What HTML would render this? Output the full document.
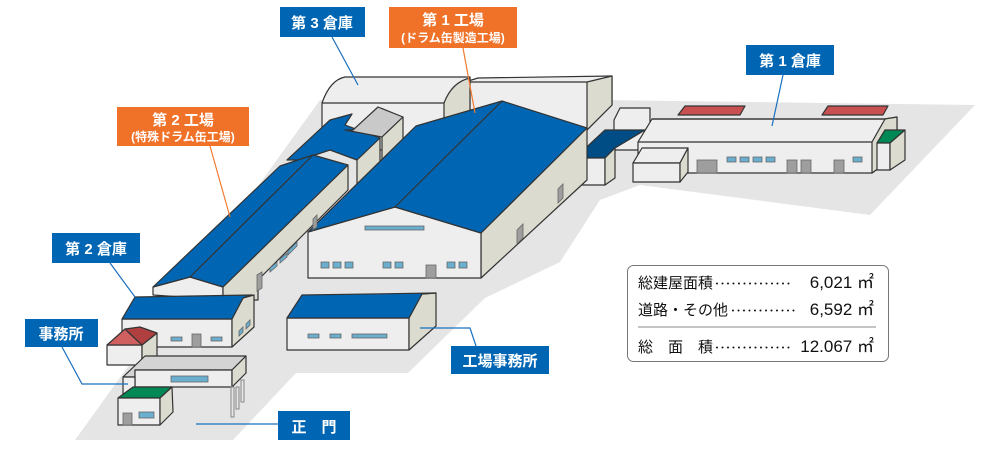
<!DOCTYPE html>
<html><head><meta charset="utf-8"><style>
html,body{margin:0;padding:0;background:#fff;}
svg{display:block;}
text{font-family:"Liberation Sans","Noto Sans CJK JP",sans-serif;}
</style></head><body>
<svg width="1000" height="449" viewBox="0 0 1000 449" xmlns="http://www.w3.org/2000/svg">
<!-- ground -->
<polygon points="75,440 233,440 296,373 408,373 485,298 560,262 600,200 640,185 870,215 975,105 600,100 320,100 75,440" fill="#e5e5e5"/>
<g stroke="#333" stroke-width="1.2" stroke-linejoin="round">
<polygon points="465,82 478,78 612,76 612,105 587,130 465,130" fill="#eeeeee"/>
<polygon points="587,82 612,76 612,105 587,130" fill="#dcdbcf"/>
<line x1="465" y1="82" x2="587" y2="82"/>
<path d="M322,150 L322,103 Q330,80 345,77 L470,77 L470,115 L444,150 Z" fill="#eeeeee"/>
<path d="M444,103 Q452,82 470,78 L470,115 L444,150 Z" fill="#dcdbcf"/>
<line x1="322" y1="103" x2="444" y2="103"/>
<polygon points="614,120 620,108 650,108 650,150 614,150" fill="#eeeeee"/>
<polygon points="678,115 685,106 745,106 740,115" fill="#c85050"/>
<polygon points="822,115 828,106 888,106 883,115" fill="#c85050"/>
<polygon points="638,142 652,119 885,119 897,117 897,155 872,173 638,173" fill="#eeeeee"/>
<polygon points="872,142 885,119 897,117 897,155 872,173" fill="#dcdbcf"/>
<line x1="638" y1="142" x2="872" y2="142"/>
<line x1="652" y1="119" x2="885" y2="119"/>
<polygon points="877,143 885,130 905,130 890,143" fill="#008855"/>
<rect x="877" y="143" width="13" height="27" fill="#eeeeee"/>
<polygon points="890,143 905,130 905,160 890,170" fill="#dcdbcf"/>
<polygon points="633,163 642,148 688,148 680,163" fill="#eeeeee"/>
<rect x="633" y="163" width="47" height="19" fill="#eeeeee"/>
<polygon points="680,163 688,148 688,172 680,182" fill="#dcdbcf"/>
<polygon points="575,158 605,130 645,130 615,148 605,158" fill="#004d85"/>
<rect x="575" y="158" width="30" height="27" fill="#eeeeee"/>
<polygon points="605,158 615,148 615,178 605,185" fill="#dcdbcf"/>
</g>
<g fill="#6aaed0" stroke="#666" stroke-width="0.8">
<rect x="727" y="157" width="9" height="5"/><rect x="740" y="157" width="9" height="5"/><rect x="753" y="157" width="9" height="5"/><rect x="766" y="157" width="9" height="5"/><rect x="853" y="157" width="9" height="5"/>
</g>
<g fill="#9e9e9e" stroke="#666" stroke-width="0.8">
<rect x="697" y="160" width="20" height="13"/><rect x="787" y="160" width="10" height="13"/><rect x="801" y="160" width="10" height="13"/><rect x="834" y="160" width="10" height="13"/>
</g>
<g stroke="#333" stroke-width="1.2" stroke-linejoin="round">
<polygon points="287,160 330,120 352,114 345,125 380,138 357,160 330,150 300,160" fill="#0066b3"/>
<polygon points="357,160 380,138 380,172 357,190" fill="#dcdbcf"/>
<polygon points="345,130 353,130 378,107 403,117 382,137" fill="#c9c9c9"/>
<polygon points="382,137 403,117 403,150 382,172" fill="#dcdbcf"/>
<polygon points="153,295 153,287 190,277 223,287 223,300" fill="#eeeeee"/>
<polygon points="223,287 348,165 348,190 258,280 258,300 223,300" fill="#dcdbcf"/>
<polygon points="153,287 280,166 313,155 348,165 223,287 190,277" fill="#0066b3"/>
<line x1="190" y1="277" x2="313" y2="155"/>
<polygon points="481,233 587,128 587,180 481,278" fill="#dcdbcf"/>
<polygon points="308,278 308,232 395,207 481,233 481,278" fill="#eeeeee"/>
<polygon points="308,232 416,126 502,101 587,128 481,233 395,207" fill="#0066b3"/>
<line x1="395" y1="207" x2="502" y2="101"/>
</g>
<g fill="#6aaed0" stroke="#666" stroke-width="0.8">
<rect x="365" y="226" width="59" height="4"/>
<rect x="321" y="262" width="8" height="6"/><rect x="333" y="262" width="8" height="6"/><rect x="345" y="262" width="8" height="6"/>
<rect x="383" y="262" width="8" height="6"/><rect x="395" y="262" width="8" height="6"/>
<rect x="447" y="262" width="8" height="6"/><rect x="459" y="262" width="8" height="6"/>
<polygon points="270,268 277,262 277,266 270,272"/><polygon points="280,259 287,253 287,257 280,263"/><polygon points="288,251 297,242 297,246 288,255"/>
</g>
<g fill="#9e9e9e" stroke="#666" stroke-width="0.8">
<rect x="426" y="265" width="10" height="13"/>
<polygon points="517,230 523,224 523,238 517,244"/><polygon points="558,189 563,184 563,198 558,203"/>
<polygon points="257,275 262,272 262,288 257,291"/><polygon points="313,219 317,215 317,227 313,230"/>
</g>
<g stroke="#333" stroke-width="1.2" stroke-linejoin="round">
<rect x="122" y="319" width="110" height="28" fill="#eeeeee"/>
<polygon points="232,319 243,298 254,295 254,327 232,347" fill="#dcdbcf"/>
<polygon points="122,319 135,297 252,295 243,298 232,319" fill="#0066b3"/>
<rect x="107" y="345" width="35" height="20" fill="#eeeeee"/>
<polygon points="142,345 157,333 157,356 142,365" fill="#dcdbcf"/>
<polygon points="107,345 125,329 142,345" fill="#d06060"/>
<polygon points="125,329 140,327 157,333 142,345" fill="#b04040"/>
<polygon points="123,377 145,356 246,356 232,370 135,370 135,377" fill="#d4d4d4"/>
<rect x="135" y="370" width="97" height="17" fill="#eeeeee"/>
<rect x="123" y="377" width="12" height="17" fill="#eeeeee"/>
<polygon points="232,370 246,356 246,373 232,387" fill="#dcdbcf"/>
</g>
<g fill="#e5e5e5" stroke="#888" stroke-width="1">
<rect x="231" y="387" width="3" height="30"/><rect x="236" y="387" width="3" height="22"/><rect x="241" y="380" width="3" height="22"/>
</g>
<g stroke="#333" stroke-width="1.2" stroke-linejoin="round">
<polygon points="118,398 133,387 172,387 160,398" fill="#008855"/>
<rect x="118" y="398" width="42" height="27" fill="#eeeeee"/>
<polygon points="160,398 172,387 173,412 160,425" fill="#dcdbcf"/>
<rect x="287" y="318" width="122" height="32" fill="#eeeeee"/>
<polygon points="409,318 422,294 436,293 436,326 409,350" fill="#dcdbcf"/>
<polygon points="287,318 302,295 436,293 422,294 409,318" fill="#0066b3"/>
</g>
<g fill="#6aaed0" stroke="#666" stroke-width="0.8">
<rect x="171" y="337" width="11" height="4"/><rect x="211" y="337" width="11" height="4"/>
<polygon points="239,331 243,327 243,332 239,336"/><polygon points="246,324 250,320 250,325 246,329"/>
<rect x="171" y="376" width="37" height="6"/>
<rect x="139" y="412" width="15" height="6"/>
<rect x="308" y="334" width="11" height="4"/><rect x="330" y="334" width="11" height="4"/><rect x="352" y="334" width="35" height="4"/>
</g>
<g fill="#9e9e9e" stroke="#666" stroke-width="0.8">
<rect x="192" y="334" width="9" height="13"/><rect x="123" y="413" width="9" height="12"/>
</g>
<g fill="none" stroke-width="1.2">
<polyline points="332,37 358,85" stroke="#1a6fc0"/>
<polyline points="463,48 475,113" stroke="#f07a30"/>
<polyline points="783,75 772,126" stroke="#1a6fc0"/>
<polyline points="210,146 230,217" stroke="#f07a30"/>
<polyline points="110,263 135,297" stroke="#1a6fc0"/>
<polyline points="62,347 82,384 128,384" stroke="#1a6fc0"/>
<polyline points="420,328 470,328 476,346" stroke="#1a6fc0"/>
<polyline points="196,424 278,424" stroke="#1a6fc0"/>
</g>
<g font-size="15" font-weight="bold" fill="#fff" text-anchor="middle">
<rect x="280" y="7" width="85" height="30" fill="#0066b3"/><text x="322" y="28">第 3 倉庫</text>
<rect x="389" y="7" width="128" height="41" fill="#f07228"/><text x="453" y="25">第 1 工場</text>
<text x="453" y="42" font-size="12">(ドラム缶製造工場)</text>
<rect x="746" y="45" width="88" height="30" fill="#0066b3"/><text x="790" y="66">第 1 倉庫</text>
<rect x="117" y="107" width="132" height="39" fill="#f07228"/><text x="183" y="125">第 2 工場</text>
<text x="183" y="141" font-size="12">(特殊ドラム缶工場)</text>
<rect x="52" y="233" width="88" height="30" fill="#0066b3"/><text x="96" y="254">第 2 倉庫</text>
<rect x="25" y="319" width="73" height="28" fill="#0066b3"/><text x="61" y="339">事務所</text>
<rect x="451" y="346" width="98" height="28" fill="#0066b3"/><text x="500" y="366">工場事務所</text>
<rect x="278" y="411" width="72" height="29" fill="#0066b3"/><text x="314" y="432">正　門</text>
</g>
<rect x="627.5" y="265.5" width="261" height="96" rx="6" fill="#fff" stroke="#777"/>
<line x1="638" y1="327" x2="876" y2="327" stroke="#888"/>
<g font-size="15" fill="#111">
<text x="638" y="288">総建屋面積</text><text x="714" y="288" font-size="12" letter-spacing="-0.5">･･････････････</text>
<text x="874" y="288" text-anchor="end" font-size="17">6,021 ㎡</text>
<text x="638" y="315">道路・その他</text><text x="730" y="315" font-size="12" letter-spacing="-0.5">････････････</text>
<text x="874" y="315" text-anchor="end" font-size="17">6,592 ㎡</text>
<text x="638" y="352">総　面　積</text><text x="714" y="352" font-size="12" letter-spacing="-0.5">･･････････････</text>
<text x="874" y="352" text-anchor="end" font-size="17">12.067 ㎡</text>
</g>
</svg>
</body></html>
